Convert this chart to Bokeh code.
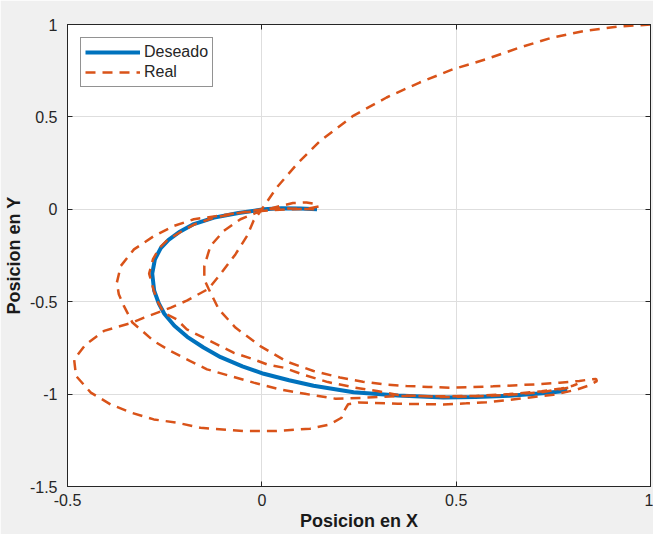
from bokeh.plotting import figure
from bokeh.models import Range1d, FixedTicker, LinearAxis
from bokeh.embed import file_html
from bokeh.resources import INLINE

# ---- data ----
x_ticks = [-0.5, 0, 0.5, 1]
x_tick_labels = ["-0.5", "0", "0.5", "1"]
y_ticks = [-1.5, -1, -0.5, 0, 0.5, 1]
y_tick_labels = ["-1.5", "-1", "-0.5", "0", "0.5", "1"]

des_x = [0.142, 0.1, 0.05, 0.005, -0.06, -0.123, -0.175, -0.21, -0.24, -0.26, -0.275,
         -0.282, -0.277, -0.265, -0.251, -0.225, -0.192, -0.15, -0.106, -0.05, 0.005,
         0.07, 0.133, 0.236, 0.35, 0.467, 0.55, 0.637, 0.723, 0.786]
des_y = [0.0, 0.004, 0.006, 0.0, -0.02, -0.045, -0.08, -0.12, -0.165, -0.21, -0.27,
         -0.348, -0.44, -0.51, -0.565, -0.63, -0.69, -0.748, -0.80, -0.85, -0.89,
         -0.925, -0.955, -0.99, -1.008, -1.018, -1.016, -1.009, -0.996, -0.982]

real_x = [
    # initial arc
    1.0, 0.919, 0.833, 0.748, 0.663, 0.577, 0.492, 0.406, 0.321, 0.235, 0.15, 0.09, 0.038,
    0.0, -0.021, -0.038, -0.068, -0.107, -0.137,
    # lower loop and bottom line
    -0.193, -0.234, -0.303, -0.333, -0.406, -0.453, -0.483, -0.478, -0.44, -0.389, -0.337,
    -0.278, -0.218, -0.158, -0.047, 0.038, 0.124, 0.175, 0.205, 0.214, 0.222, 0.25, 0.35,
    0.467, 0.526, 0.578, 0.638, 0.69, 0.75, 0.81, 0.843, 0.862, 0.86, 0.84,
    # top line back
    0.817, 0.766, 0.706, 0.646, 0.595, 0.535, 0.483, 0.428, 0.372, 0.316, 0.26, 0.201, 0.133,
    0.064, -0.004, -0.068, -0.111, -0.137,
    -0.148, -0.148, -0.132, -0.098, -0.055, -0.013, 0.03, 0.08, 0.115, 0.14, 0.146,
    # outer C
    0.12, 0.08, 0.03, -0.055, -0.115, -0.175, -0.226, -0.277, -0.329, -0.363, -0.373, -0.368,
    -0.355, -0.337, -0.333, -0.312, -0.278, -0.235, -0.184, -0.141, -0.081, -0.021, 0.047,
    0.115, 0.19, 0.26, 0.35, 0.467, 0.55, 0.637, 0.72, 0.77, 0.8, 0.812,
    # final pass
    0.79, 0.72, 0.637, 0.55, 0.467, 0.35, 0.3, 0.24, 0.17, 0.107, 0.056, 0.013, -0.021,
    -0.073, -0.107, -0.158, -0.193, -0.219, -0.252, -0.268, -0.278, -0.29, -0.28, -0.264,
    -0.242, -0.207, -0.172, -0.122, -0.06, 0.0, 0.05, 0.1, 0.135,
]
real_y = [
    1.0, 0.989, 0.966, 0.93, 0.875, 0.812, 0.758, 0.686, 0.605, 0.506, 0.37, 0.244, 0.117,
    0.0, -0.061, -0.144, -0.244, -0.352, -0.43,
    -0.494, -0.532, -0.586, -0.613, -0.658, -0.731, -0.812, -0.902, -0.992, -1.056, -1.1,
    -1.137, -1.155, -1.182, -1.2, -1.2, -1.187, -1.164, -1.128, -1.083, -1.055, -1.045, -1.052,
    -1.056, -1.05, -1.044, -1.031, -1.018, -1.003, -0.976, -0.952, -0.93, -0.918, -0.922,
    -0.929, -0.938, -0.947, -0.953, -0.958, -0.962, -0.965, -0.961, -0.956, -0.948, -0.933,
    -0.91, -0.875, -0.824, -0.74, -0.64, -0.54, -0.43,
    -0.379, -0.306, -0.198, -0.117, -0.054, -0.018, 0.009, 0.034, 0.037, 0.028, 0.015,
    0.004, 0.0, -0.004, -0.018, -0.036, -0.054, -0.09, -0.144, -0.217, -0.307, -0.397, -0.46,
    -0.523, -0.596, -0.613, -0.65, -0.713, -0.767, -0.821, -0.866, -0.902, -0.938, -0.975,
    -1.0, -1.025, -1.02, -1.01, -1.012, -1.01, -1.0, -0.985, -0.97, -0.955, -0.945,
    -0.965, -0.99, -1.004, -1.012, -1.016, -1.005, -0.985, -0.965, -0.935, -0.895, -0.857,
    -0.839, -0.812, -0.776, -0.74, -0.686, -0.65, -0.596, -0.56, -0.5, -0.44, -0.348, -0.27,
    -0.21, -0.165, -0.12, -0.08, -0.045, -0.02, 0.0, 0.004, 0.003, 0.0,
]

FONT = "Liberation Sans"
AX = "#262626"

p = figure(width=653, height=534, x_range=Range1d(-0.5, 1), y_range=Range1d(-1.5, 1),
           output_backend="svg", toolbar_location=None,
           min_border_left=67, min_border_right=3, min_border_top=24, min_border_bottom=48)
p.background_fill_color = "white"
p.border_fill_color = "#f0f0f0"
p.outline_line_color = AX
p.outline_line_width = 1

for ax, ticks, labels in ((p.xaxis[0], x_ticks, x_tick_labels), (p.yaxis[0], y_ticks, y_tick_labels)):
    ax.ticker = FixedTicker(ticks=ticks)
    ax.major_label_overrides = {t: l for t, l in zip(ticks, labels)}
    ax.major_tick_in = 5
    ax.major_tick_out = 0
    ax.minor_tick_line_color = None
    ax.axis_line_color = AX
    ax.major_tick_line_color = AX
    ax.major_label_text_font = FONT
    ax.major_label_text_font_size = "16px"
    ax.major_label_text_color = AX
    ax.axis_label_text_font = FONT
    ax.axis_label_text_font_size = "18px"
    ax.axis_label_text_font_style = "bold"
    ax.axis_label_text_color = "#1a1a1a"

p.xaxis.axis_label = "Posicion en X"
p.yaxis.axis_label = "Posicion en Y"
p.xaxis.major_label_standoff = 7
p.yaxis.major_label_standoff = 10
p.xaxis.axis_label_standoff = 2
p.yaxis.axis_label_standoff = 3

for loc, ticks in (("above", x_ticks), ("right", y_ticks)):
    a = LinearAxis(ticker=FixedTicker(ticks=ticks), major_tick_in=5, major_tick_out=0,
                   minor_tick_line_color=None, axis_line_color=AX, major_tick_line_color=AX,
                   major_label_text_font_size="1px", major_label_text_color=None,
                   major_label_standoff=0)
    p.add_layout(a, loc)

p.xgrid.ticker = FixedTicker(ticks=x_ticks)
p.ygrid.ticker = FixedTicker(ticks=y_ticks)
p.grid.grid_line_color = "#dedede"
p.grid.grid_line_width = 1

p.line(des_x, des_y, line_color="#0072BD", line_width=4, legend_label="Deseado")
p.line(real_x, real_y, line_color="#D95319", line_width=2.5, line_dash="10 7",
       legend_label="Real")

lg = p.legend[0]
lg.location = "top_left"
lg.margin = 13
lg.padding = 4
lg.spacing = 0
lg.glyph_width = 55
lg.glyph_height = 20
lg.label_standoff = 4
lg.label_text_font = FONT
lg.label_text_font_size = "16px"
lg.label_text_color = AX
lg.border_line_color = AX
lg.border_line_width = 1
lg.background_fill_color = "white"
lg.background_fill_alpha = 1

open("out.html", "w").write(file_html(p, INLINE))
